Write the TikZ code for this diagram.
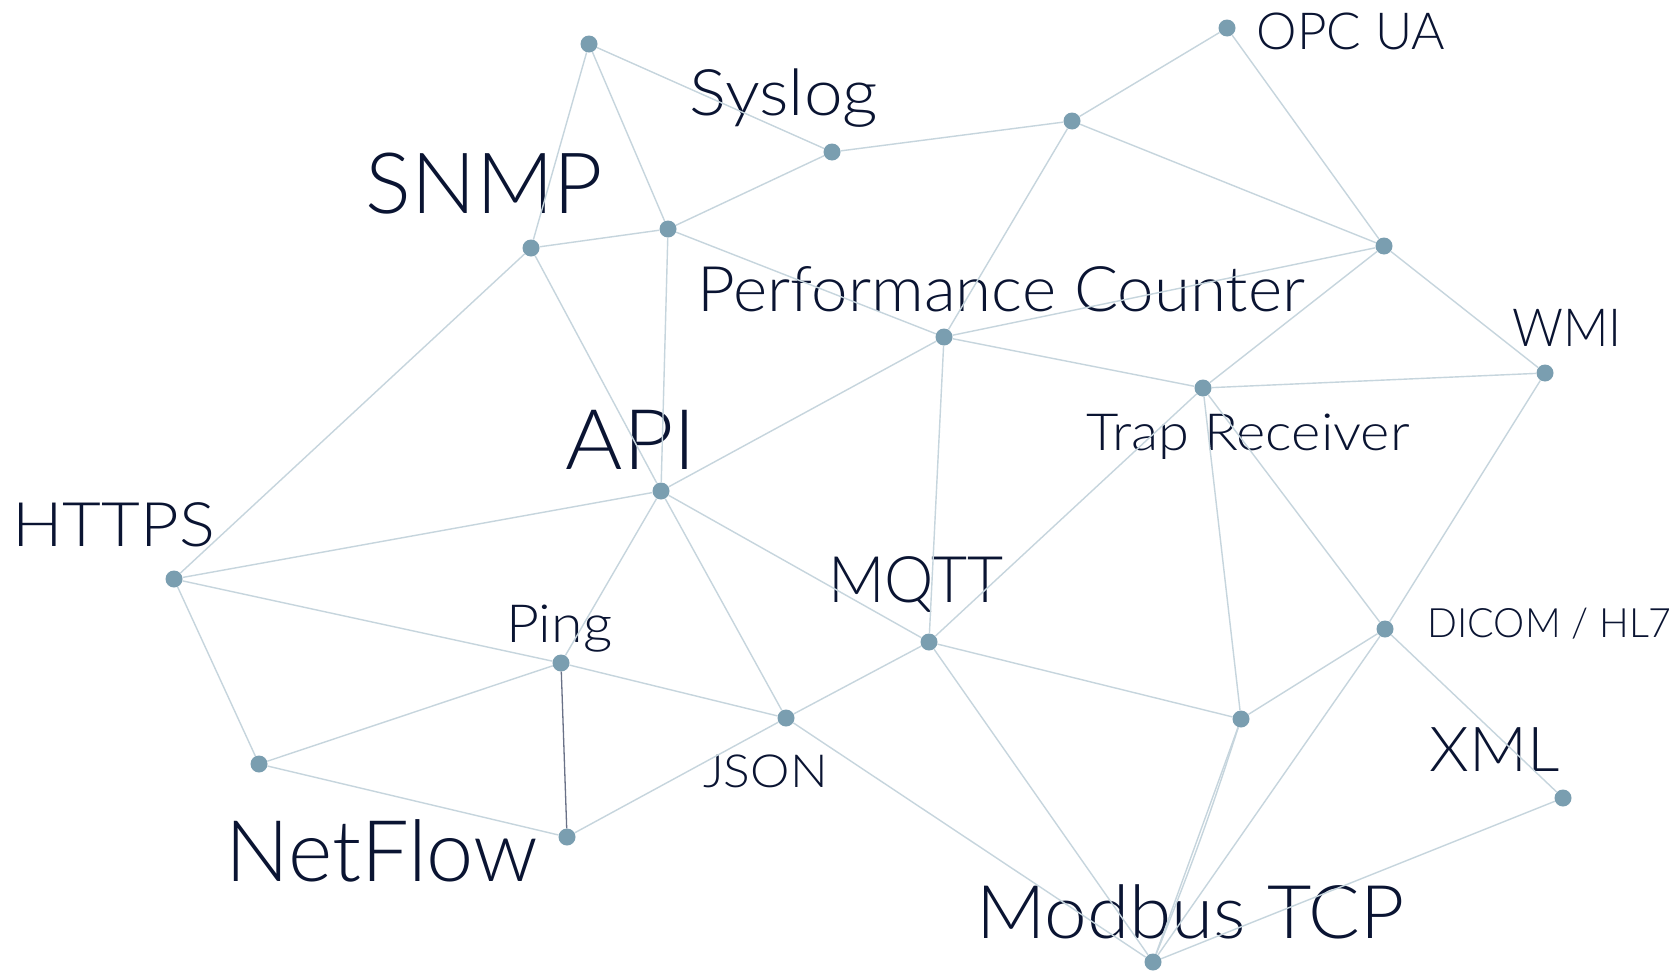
\documentclass[tikz,border=0pt]{standalone}
\usepackage{fontspec}
\setmainfont{Lato Light}
\usepackage{graphicx}
\definecolor{txtc}{RGB}{10,20,50}
\definecolor{edgec}{RGB}{198,213,221}
\definecolor{dotc}{RGB}{122,158,176}
\definecolor{darkedge}{RGB}{105,113,135}
\newcommand{\lbl}[6]{\node[lbl] (#1) at (#2,#3) {\resizebox{#5pt}{\height}{\fontsize{#4pt}{#4pt}\selectfont #6}};}
\begin{document}
\begin{tikzpicture}[x=1pt,y=-1pt,
  lbl/.style={anchor=base west,inner sep=0pt,outer sep=0pt,text=txtc},
  dot/.style={circle,fill=dotc,draw=none,inner sep=0pt,minimum size=17pt},
  edge/.style={draw=edgec,line width=1.4pt},
  dedge/.style={draw=darkedge,line width=1.3pt}]
\path[use as bounding box,fill=white] (0,0) rectangle (1678,972);
% labels
\lbl{lsnmp}{365.6}{213}{84.6}{237.6}{SNMP}
\lbl{lsyslog}{689.7}{115}{64.2}{188.4}{Syslog}
\lbl{lopc}{1256.7}{49.3}{51.1}{188.4}{OPC UA}
\lbl{lperf}{697.6}{311.7}{62.8}{607.6}{Performance Counter}
\lbl{lwmi}{1512.4}{346.7}{52.5}{109.4}{WMI}
\lbl{ltrap}{1086.4}{450}{51.2}{323.2}{Trap Receiver}
\lbl{lapi}{565.8}{469.3}{83.7}{130.6}{API}
\lbl{lhttps}{12.4}{546.7}{61.4}{202.6}{HTTPS}
\lbl{lmqtt}{828.3}{602.7}{64.2}{175.4}{MQTT}
\lbl{lping}{506.1}{642.7}{52.6}{106.1}{Ping}
\lbl{ldicom}{1427.4}{637.3}{40.5}{244.3}{DICOM / HL7}
\lbl{ljson}{703.2}{787.7}{45.6}{124.4}{JSON}
\lbl{lxml}{1429.5}{771.7}{62}{129.9}{XML}
\lbl{lnetflow}{225.5}{881.7}{85.1}{312.8}{NetFlow}
\lbl{lmodbus}{976.4}{938.3}{74}{427.8}{Modbus TCP}
% dots
\node[dot] (n1) at (589,44) {};
\node[dot] (n2) at (832,152) {};
\node[dot] (n3) at (1072,121) {};
\node[dot] (n4) at (1227,28) {};
\node[dot] (n5) at (531,248) {};
\node[dot] (n6) at (668,229) {};
\node[dot] (n7) at (1384,246) {};
\node[dot] (n8) at (944,337) {};
\node[dot] (n9) at (1545,373) {};
\node[dot] (n10) at (1203,388) {};
\node[dot] (n11) at (661,491) {};
\node[dot] (n12) at (174,579) {};
\node[dot] (n13) at (929,642) {};
\node[dot] (n14) at (1385,629) {};
\node[dot] (n15) at (561,663) {};
\node[dot] (n16) at (786,718) {};
\node[dot] (n17) at (1241,719) {};
\node[dot] (n18) at (259,764) {};
\node[dot] (n19) at (567,837) {};
\node[dot] (n20) at (1563,798) {};
\node[dot] (n21) at (1153,962) {};
% edges
\draw[edge] (n1) -- (n2);
\draw[edge] (n1) -- (n5);
\draw[edge] (n1) -- (n6);
\draw[edge] (n2) -- (n6);
\draw[edge] (n2) -- (n3);
\draw[edge] (n3) -- (n4);
\draw[edge] (n3) -- (n7);
\draw[edge] (n3) -- (n8);
\draw[edge] (n4) -- (n7);
\draw[edge] (n5) -- (n6);
\draw[edge] (n5) -- (n12);
\draw[edge] (n5) -- (n11);
\draw[edge] (n6) -- (n11);
\draw[edge] (n6) -- (n8);
\draw[edge] (n7) -- (n8);
\draw[edge] (n7) -- (n10);
\draw[edge] (n7) -- (n9);
\draw[edge] (n8) -- (n11);
\draw[edge] (n8) -- (n10);
\draw[edge] (n8) -- (n13);
\draw[edge] (n10) -- (n9);
\draw[edge] (n10) -- (n13);
\draw[edge] (n10) -- (n17);
\draw[edge] (n10) -- (n14);
\draw[edge] (n9) -- (n14);
\draw[edge] (n11) -- (n12);
\draw[edge] (n11) -- (n15);
\draw[edge] (n11) -- (n16);
\draw[edge] (n11) -- (n13);
\draw[edge] (n12) -- (n15);
\draw[edge] (n12) -- (n18);
\draw[edge] (n15) -- (n18);
\draw[edge] (n15) -- (n16);
\draw[dedge] (n15) -- (n19);
\draw[edge] (n18) -- (n19);
\draw[edge] (n19) -- (n16);
\draw[edge] (n16) -- (n13);
\draw[edge] (n16) -- (n21);
\draw[edge] (n13) -- (n17);
\draw[edge] (n13) -- (n21);
\draw[edge] (n17) -- (n14);
\draw[edge] (n17) -- (n21);
\draw[edge] (n17) to[bend left=2] (n21);
\draw[edge] (n14) -- (n21);
\draw[edge] (n14) -- (n20);
\draw[edge] (n20) -- (n21);
\end{tikzpicture}
\end{document}
